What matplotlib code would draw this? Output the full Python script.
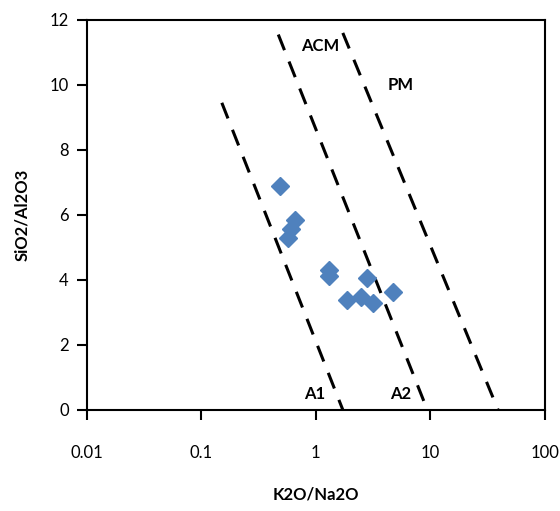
import matplotlib.pyplot as plt
from matplotlib.ticker import FixedLocator, FixedFormatter

# --- datos (K2O/Na2O vs SiO2/Al2O3) ---
k2o_na2o = [0.485, 0.66, 0.61, 0.57, 1.31, 1.30, 2.79, 4.7, 1.87, 2.47, 3.15]
sio2_al2o3 = [6.89, 5.85, 5.55, 5.3, 4.3, 4.12, 4.06, 3.63, 3.38, 3.48, 3.3]

# límites de campos (x, y) en los extremos
linea_a1_x = [0.151, 1.72]
linea_a1_y = [9.45, 0.0]
linea_a2_x = [0.47, 9.4]
linea_a2_y = [11.55, 0.0]
linea_pm_x = [1.72, 39.0]
linea_pm_y = [11.6, 0.0]

x_ticks = [0.01, 0.1, 1, 10, 100]
x_labels = ["0.01", "0.1", "1", "10", "100"]
y_ticks = [0, 2, 4, 6, 8, 10, 12]

plt.rcParams['font.family'] = ['Lato', 'DejaVu Sans']

fig = plt.figure(figsize=(5.6, 5.11), dpi=100)
ax = fig.add_axes([0.155, 0.198, 0.818, 0.763])

for lx, ly in [(linea_a1_x, linea_a1_y), (linea_a2_x, linea_a2_y), (linea_pm_x, linea_pm_y)]:
    ax.plot(lx, ly, color='black', lw=2.2, dashes=(5.5, 4))

ax.plot(k2o_na2o, sio2_al2o3, linestyle='none', marker='D', markersize=9,
        color='#4F81BD', markeredgecolor='#4F81BD')

ax.set_xscale('log')
ax.set_xlim(0.01, 100)
ax.set_ylim(0, 12)
ax.xaxis.set_major_locator(FixedLocator(x_ticks))
ax.xaxis.set_major_formatter(FixedFormatter(x_labels))
ax.xaxis.set_minor_locator(FixedLocator([]))
ax.set_yticks(y_ticks)

ax.tick_params(axis='x', direction='out', length=7, width=1.5, pad=18, labelsize=12, colors='black')
ax.tick_params(axis='y', direction='out', length=7, width=1.5, pad=6, labelsize=12)
for s in ax.spines.values():
    s.set_linewidth(1.5)

ax.text(0.75, 11.2, "ACM", fontsize=12, fontweight='bold', ha='left', va='center')
ax.text(4.2, 10.0, "PM", fontsize=12, fontweight='bold', ha='left', va='center')
ax.text(0.98, 0.5, "A1", fontsize=12, fontweight='bold', ha='center', va='center')
ax.text(5.5, 0.5, "A2", fontsize=12, fontweight='bold', ha='center', va='center')

ax.set_xlabel("K2O/Na2O", fontsize=12, fontweight='bold', labelpad=19)
ax.set_ylabel("SiO2/Al2O3", fontsize=12, fontweight='bold', labelpad=14)

fig.savefig("out.png", dpi=100)
